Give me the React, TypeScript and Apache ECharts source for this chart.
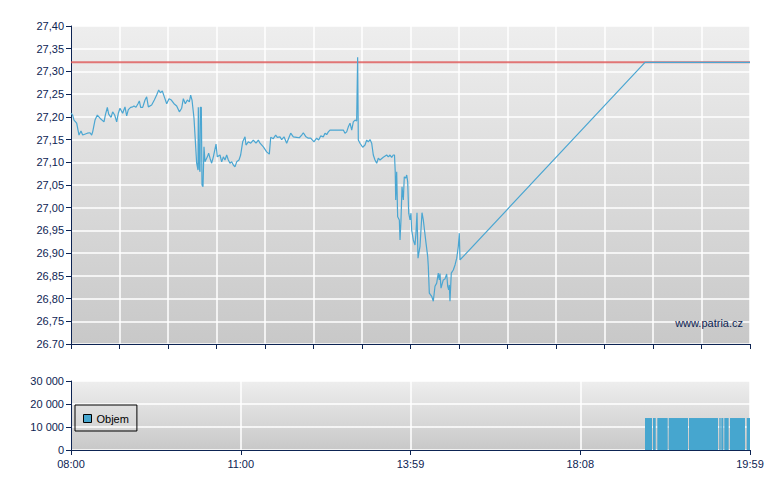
import React, { useEffect, useRef } from "react";
import * as echarts from "echarts";

// x position in chart sequence units (0..140 across the session axis)
const priceX = [
  0, 0.34, 0.62, 1.17, 1.65, 2.06, 2.41, 3.37, 3.92, 4.26, 4.47, 4.95, 5.43, 5.98, 6.8, 7.08, 7.49, 7.77, 8.25, 8.59,
  9.0, 9.42, 9.76, 10.1, 10.65, 11.13, 11.48, 11.82, 12.3, 12.72, 12.99, 13.4, 13.81, 14.09, 14.36, 14.78, 15.26, 15.6,
  15.95, 16.63, 17.18, 17.66, 18.08, 18.42, 18.83, 19.24, 19.73, 20.21, 20.69, 21.24, 21.79, 22.34, 22.82, 23.16, 23.57,
  23.99, 24.4, 24.67, 24.95, 25.36, 25.91, 26.19, 26.25, 26.46, 26.6, 26.67, 26.87, 27.01, 27.22, 27.42, 27.63, 28.11,
  28.38, 28.66, 29.0, 29.35, 29.9, 30.17, 30.72, 31.07, 31.41, 31.75, 32.1, 32.44, 32.78, 33.13, 33.47, 33.81, 34.16,
  34.64, 34.98, 35.4, 35.88, 36.08, 36.56, 37.05, 37.59, 38.14, 38.63, 38.97, 39.66, 40.34, 40.89, 41.18, 41.71, 42.2,
  42.54, 43.09, 43.44, 43.92, 44.47, 44.88, 45.3, 45.84, 46.53, 47.08, 47.56, 47.9, 48.45, 48.93, 49.42, 50.1, 50.65,
  51.07, 51.48, 52.03, 52.37, 52.72, 53.06, 53.4, 54.78, 56.15, 56.49, 56.84, 57.18, 57.53, 57.88, 58.21, 58.56, 58.9,
  59.1, 59.24, 59.59, 60.14, 60.62, 60.97, 61.3, 61.65, 62.0, 62.33, 62.68, 63.03, 63.36, 63.71, 64.39, 65.09, 65.42,
  65.77, 66.12, 66.45, 66.7, 66.85, 66.95, 67.15, 67.35, 67.7, 67.84, 68.04, 68.25, 68.52, 68.72, 69.0, 69.22, 69.42,
  69.63, 69.9, 70.1, 70.24, 70.58, 70.93, 71.13, 71.34, 71.55, 71.96, 72.37, 72.64, 73.2, 73.54, 73.67, 73.88, 74.37,
  74.7, 75.05, 75.4, 75.73, 75.94, 76.08, 76.29, 76.76, 77.11, 77.46, 77.67, 77.88, 78.0, 78.14, 78.41, 78.82, 79.18,
  79.53, 79.86, 80.06, 80.21, 118.35, 140,
];

const priceY = [
  27.208, 27.204, 27.193, 27.186, 27.16, 27.169, 27.16, 27.164, 27.165, 27.16, 27.167, 27.193, 27.204, 27.197, 27.189,
  27.204, 27.221, 27.206, 27.199, 27.211, 27.204, 27.189, 27.208, 27.219, 27.208, 27.222, 27.202, 27.216, 27.221,
  27.222, 27.224, 27.221, 27.229, 27.235, 27.221, 27.221, 27.237, 27.244, 27.222, 27.226, 27.237, 27.248, 27.259,
  27.253, 27.257, 27.244, 27.229, 27.24, 27.237, 27.229, 27.224, 27.211, 27.219, 27.24, 27.229, 27.237, 27.233,
  27.248, 27.237, 27.197, 27.098, 27.083, 27.221, 27.087, 27.079, 27.221, 27.221, 27.05, 27.046, 27.134, 27.101,
  27.112, 27.12, 27.109, 27.098, 27.112, 27.14, 27.112, 27.116, 27.101, 27.112, 27.105, 27.116, 27.105, 27.098,
  27.101, 27.094, 27.09, 27.101, 27.105, 27.116, 27.145, 27.156, 27.138, 27.145, 27.142, 27.149, 27.142, 27.149,
  27.142, 27.134, 27.123, 27.118, 27.155, 27.152, 27.16, 27.155, 27.156, 27.15, 27.156, 27.142, 27.153, 27.164,
  27.156, 27.155, 27.154, 27.16, 27.165, 27.156, 27.153, 27.153, 27.145, 27.153, 27.149, 27.158, 27.156, 27.164,
  27.161, 27.167, 27.171, 27.171, 27.171, 27.164, 27.167, 27.178, 27.186, 27.171, 27.189, 27.193, 27.191, 27.331,
  27.149, 27.142, 27.133, 27.138, 27.149, 27.145, 27.15, 27.142, 27.116, 27.105, 27.098, 27.109, 27.105, 27.111,
  27.116, 27.112, 27.116, 27.111, 27.116, 27.116, 27.079, 27.017, 27.079, 26.98, 26.973, 26.929, 26.973, 27.046,
  27.017, 27.068, 27.065, 27.072, 27.057, 26.988, 26.973, 26.988, 26.951, 26.929, 26.918, 26.944, 26.989, 26.889,
  26.915, 26.989, 26.973, 26.922, 26.893, 26.871, 26.812, 26.805, 26.794, 26.827, 26.834, 26.856, 26.841, 26.855,
  26.823, 26.841, 26.843, 26.854, 26.827, 26.819, 26.83, 26.794, 26.856, 26.863, 26.874, 26.889, 26.915, 26.944,
  26.885, 27.32, 27.32,
];

const refPrice = 27.32;
const refRange = [0, 140];

const volStart = [118.35, 120.0, 120.89, 123.24, 127.42, 133.67, 134.08, 134.7, 135.88, 139.32];
const volEnd = [119.79, 120.56, 123.03, 127.22, 133.4, 133.96, 134.5, 135.6, 138.97, 140];
const volValues = [13900, 13900, 13900, 13900, 13900, 13900, 13900, 13900, 13900, 13900];

const priceTickLabels = [
  "26.70", "26,75", "26,80", "26,85", "26,90", "26,95", "27,00", "27,05",
  "27,10", "27,15", "27,20", "27,25", "27,30", "27,35", "27,40",
];
const volTickLabels = ["0", "10 000", "20 000", "30 000"];
const timeLabels = ["08:00", "11:00", "13:59", "18:08", "19:59"];

const NAVY = "#0d2453";
const FONT = "'Liberation Sans', Arial, sans-serif";

export default function App() {
  const ref = useRef<HTMLDivElement>(null);

  useEffect(() => {
    if (!ref.current) return;
    const chart = echarts.init(ref.current, null, { renderer: "svg" });

    const bg = {
      type: "linear",
      x: 0,
      y: 0,
      x2: 0,
      y2: 1,
      colorStops: [
        { offset: 0, color: "#eeeeee" },
        { offset: 1, color: "#c8c8c8" },
      ],
    };

    const axisLabelBase = { color: NAVY, fontSize: 11, fontFamily: FONT };
    const split = { show: true, lineStyle: { color: "#ffffff", width: 1.5 } };

    chart.setOption({
      animation: false,
      backgroundColor: "#ffffff",
      grid: [
        { left: 71, right: 30, top: 26, height: 318, show: true, backgroundColor: bg, borderWidth: 0 },
        { left: 71, right: 30, top: 381, height: 69, show: true, backgroundColor: bg, borderWidth: 0 },
      ],
      xAxis: [
        {
          type: "value",
          gridIndex: 0,
          min: 0,
          max: 140,
          interval: 10,
          axisLine: { show: true, onZero: false, lineStyle: { color: NAVY, width: 1 } },
          axisTick: { show: true, length: 5, lineStyle: { color: NAVY } },
          axisLabel: { show: false },
          splitLine: split,
        },
        {
          type: "value",
          gridIndex: 1,
          min: 0,
          max: 140,
          interval: 35,
          axisLine: { show: true, onZero: false, lineStyle: { color: NAVY, width: 1 } },
          axisTick: { show: true, length: 5, lineStyle: { color: NAVY } },
          axisLabel: {
            ...axisLabelBase,
            margin: 8,
            formatter: (v: number) => timeLabels[Math.round(v / 35)] ?? "",
          },
          splitLine: split,
        },
      ],
      yAxis: [
        {
          type: "value",
          gridIndex: 0,
          min: 26.7,
          max: 27.4,
          interval: 0.05,
          axisLine: { show: true, lineStyle: { color: NAVY, width: 1 } },
          axisTick: { show: true, length: 5, lineStyle: { color: NAVY } },
          axisLabel: {
            ...axisLabelBase,
            margin: 7,
            formatter: (v: number) => priceTickLabels[Math.round((v - 26.7) / 0.05)] ?? "",
          },
          splitLine: split,
        },
        {
          type: "value",
          gridIndex: 1,
          min: 0,
          max: 30000,
          interval: 10000,
          axisLine: { show: true, lineStyle: { color: NAVY, width: 1 } },
          axisTick: { show: true, length: 5, lineStyle: { color: NAVY } },
          axisLabel: {
            ...axisLabelBase,
            margin: 7,
            formatter: (v: number) => volTickLabels[Math.round(v / 10000)] ?? "",
          },
          splitLine: split,
        },
      ],
      legend: {
        data: ["Objem"],
        left: 75,
        top: 405,
        padding: [8, 8, 7, 8],
        borderColor: "#000000",
        borderWidth: 1,
        itemWidth: 8,
        itemHeight: 8,
        icon: "rect",
        itemStyle: { borderColor: "#000000", borderWidth: 1 },
        textStyle: { color: "#000000", fontSize: 11, fontFamily: FONT },
        selectedMode: false,
      },
      graphic: [
        {
          type: "text",
          right: 37,
          top: 317,
          style: { text: "www.patria.cz", fill: NAVY, font: `11px ${FONT}` },
          z: 10,
        },
      ],
      series: [
        {
          type: "line",
          name: "ref",
          xAxisIndex: 0,
          yAxisIndex: 0,
          data: refRange.map((x) => [x, refPrice]),
          showSymbol: false,
          symbol: "none",
          lineStyle: { color: "rgba(222,88,88,0.8)", width: 2 },
          z: 2,
        },
        {
          type: "line",
          name: "Cena",
          xAxisIndex: 0,
          yAxisIndex: 0,
          data: priceX.map((x, i) => [x, priceY[i]]),
          showSymbol: false,
          symbol: "none",
          lineStyle: { color: "#4aa6d2", width: 1.2 },
          z: 3,
        },
        {
          type: "custom",
          name: "Objem",
          xAxisIndex: 1,
          yAxisIndex: 1,
          itemStyle: { color: "#46a6cf" },
          data: volStart.map((s, i) => [s, volEnd[i], volValues[i]]),
          encode: { x: [0, 1], y: 2 },
          renderItem: (params: any, api: any) => {
            const p0 = api.coord([api.value(0), api.value(2)]);
            const p1 = api.coord([api.value(1), 0]);
            return {
              type: "rect",
              shape: { x: p0[0], y: p0[1], width: p1[0] - p0[0], height: p1[1] - p0[1] },
              style: { fill: "#46a6cf" },
            };
          },
        },
      ],
    });

    return () => chart.dispose();
  }, []);

  return <div ref={ref} style={{ width: 780, height: 490, position: "absolute", left: 0, top: 0 }} />;
}
